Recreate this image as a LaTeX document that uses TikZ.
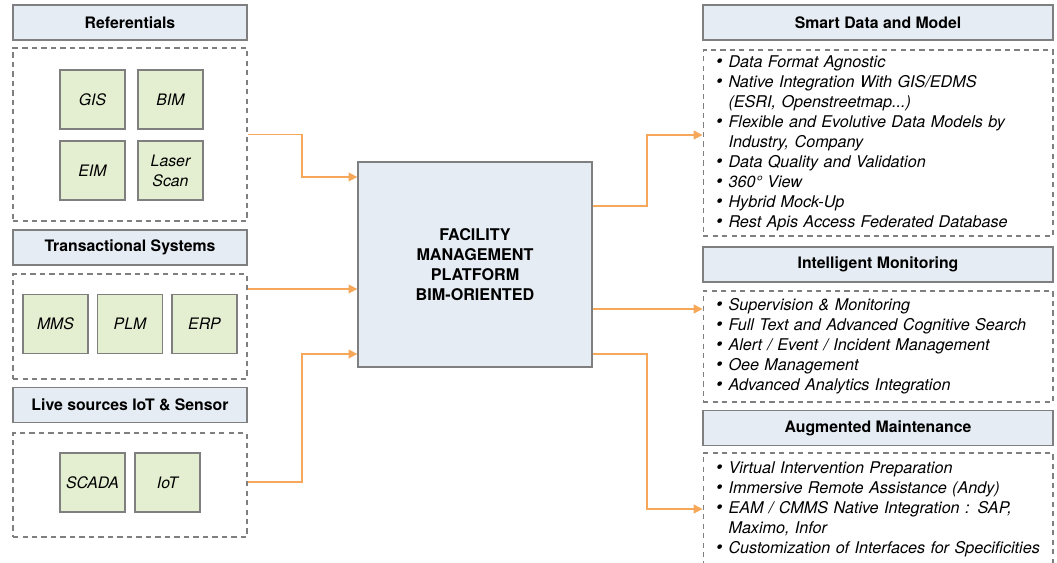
\documentclass[tikz,border=0pt]{standalone}
\usepackage{fontspec}
\setmainfont{TeX Gyre Heros}
\usetikzlibrary{arrows.meta}

\definecolor{headblue}{HTML}{E5ECF3}
\definecolor{srcgreen}{HTML}{E4EED0}
\definecolor{flowor}{HTML}{F7A75A}
\definecolor{edgegray}{HTML}{7F7F7F}

\newcommand{\bul}{\makebox[0.25cm][l]{\fontsize{10.5}{10.5}\selectfont\textbullet}}
\newcommand{\cont}{\hspace*{0.25cm}}

\begin{document}
\begin{tikzpicture}[x=0.02cm,y=-0.02cm,
	head/.style={draw=edgegray,fill=headblue,line width=0.7pt,minimum height=0.7cm,inner sep=0pt,
		font=\fontsize{9}{11.38}\selectfont\bfseries},
	group/.style={draw=edgegray,dashed,dash pattern=on 3pt off 2.4pt,line width=0.6pt,inner sep=0pt},
	src/.style={draw=edgegray,fill=srcgreen,line width=0.7pt,minimum width=1.3cm,minimum height=1.18cm,
		inner sep=1pt,align=center,font=\fontsize{9}{11.38}\selectfont\itshape},
	feat/.style={group,minimum width=7cm,text width=6.48cm,inner xsep=0.26cm,align=left,
		font=\fontsize{9.2}{11.38}\selectfont\itshape},
	flow/.style={draw=flowor,line width=0.9pt,-{Triangle[length=5pt,width=5pt]}}]
	\useasboundingbox (0,0) rectangle (1057,562);
	\clip (0,0) rectangle (1057,562);

	% sources
	\node[head,minimum width=4.68cm] (refhead) at (130,22.5) {Referentials};
	\node[group,minimum width=4.68cm,minimum height=3.46cm] (refbox) at (130,134.5) {};
	\node[src] (gis) at (92.5,99.5) {GIS};
	\node[src] (bim) at (170.5,99.5) {BIM};
	\node[src] (eim) at (92.5,170.5) {EIM};
	\node[src] (laser) at (170.5,170.5) {Laser\\Scan};

	\node[head,minimum width=4.68cm] (trshead) at (130,247.5) {Transactional Systems};
	\node[group,minimum width=4.68cm,minimum height=2.1cm] (trsbox) at (130,326.5) {};
	\node[src] (mms) at (55.5,324) {MMS};
	\node[src] (plm) at (130,324) {PLM};
	\node[src] (erp) at (204.5,324) {ERP};

	\node[head,minimum width=4.68cm] (livehead) at (130,405) {Live sources IoT \& Sensor};
	\node[group,minimum width=4.68cm,minimum height=2.08cm] (livebox) at (130,485) {};
	\node[src] (scada) at (92.5,482.5) {SCADA};
	\node[src] (iot) at (167.5,482.5) {IoT};

	% platform
	\node[draw=edgegray,fill=headblue,line width=0.8pt,minimum width=4.68cm,minimum height=4.1cm,
		align=center,font=\fontsize{9.2}{11.38}\selectfont\bfseries] (platform) at (475,264.5)
		{FACILITY\\MANAGEMENT\\PLATFORM\\BIM-ORIENTED};

	% outputs
	\node[head,minimum width=7cm] (smarthead) at (878,22.5) {Smart Data and Model};
	\node[feat,minimum height=3.72cm] (smartbox) at (878,143) {%
		\bul Data Format Agnostic\\
		\bul Native Integration With GIS/EDMS\\
		\cont(ESRI, Openstreetmap...)\\
		\bul Flexible and Evolutive Data Models by\\
		\cont Industry, Company\\
		\bul Data Quality and Validation\\
		\bul 360° View\\
		\bul Hybrid Mock-Up\\
		\bul Rest Apis Access Federated Database};

	\node[head,minimum width=7cm] (monhead) at (878,264.5) {Intelligent Monitoring};
	\node[feat,minimum height=2.22cm] (monbox) at (878,346.5) {%
		\bul Supervision \& Monitoring\\
		\bul Full Text and Advanced Cognitive Search\\
		\bul Alert / Event / Incident Management\\
		\bul Oee Management\\
		\bul Advanced Analytics Integration};

	\node[head,minimum width=7cm] (mainthead) at (878,428) {Augmented Maintenance};
	\node[feat,minimum height=2.24cm] (maintbox) at (878,509) {%
		\bul Virtual Intervention Preparation\\
		\bul Immersive Remote Assistance (Andy)\\
		\bul EAM / CMMS Native Integration : SAP,\\
		\cont Maximo, Infor\\
		\bul Customization of Interfaces for Specificities};

	% flows
	\draw[flow] (refbox.east) -| (302,177) -- (platform.west |- 0,177);
	\draw[flow] (trsbox.east |- 0,289) -- (platform.west |- 0,289);
	\draw[flow] (livebox.east |- 0,482) -| (302,354) -- (platform.west |- 0,354);
	\draw[flow] (platform.east |- 0,206) -| (647,135) -- (smartbox.west |- 0,135);
	\draw[flow] (platform.east |- 0,309) -- (monbox.west |- 0,309);
	\draw[flow] (platform.east |- 0,354) -| (647,509) -- (maintbox.west |- 0,509);
\end{tikzpicture}
\end{document}
